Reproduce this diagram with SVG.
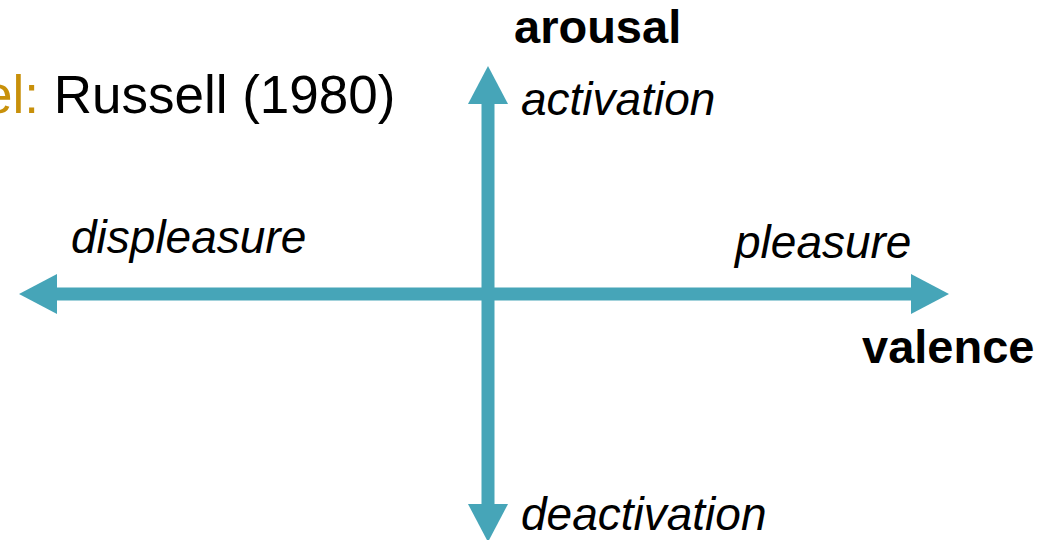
<svg xmlns="http://www.w3.org/2000/svg" width="1056" height="540" viewBox="0 0 1056 540">
  <style>
    .axis { stroke: #46A5B8; stroke-width: 13; fill: none; }
    .lbl { font-family: "Liberation Sans", Arial, sans-serif; fill: #000; }
    .it { font-style: italic; font-size: 46px; }
    .bd { font-weight: bold; font-size: 47px; }
  </style>
  <defs>
    <marker id="head" markerUnits="userSpaceOnUse" markerWidth="40" markerHeight="40" viewBox="0 0 40 40" refX="0" refY="20" orient="auto-start-reverse">
      <path d="M0,0 L38,20 L0,40 Z" fill="#46A5B8"/>
    </marker>
  </defs>
  <rect width="1056" height="540" fill="#ffffff"/>
  <g id="connectors">
    <line class="axis" x1="57" y1="294" x2="911" y2="294" marker-start="url(#head)" marker-end="url(#head)"/>
    <line class="axis" x1="488" y1="104" x2="488" y2="504" marker-start="url(#head)" marker-end="url(#head)"/>
  </g>
  <g id="title">
    <text class="lbl" x="-17" y="113" font-size="53"><tspan fill="#C8900A">el:</tspan> Russell (1980)</text>
  </g>
  <g id="arousal"><text class="lbl bd" x="514" y="43">arousal</text></g>
  <g id="activation"><text class="lbl it" x="521" y="115">activation</text></g>
  <g id="displeasure"><text class="lbl it" x="71" y="253">displeasure</text></g>
  <g id="pleasure"><text class="lbl it" x="735" y="258" font-size="50">pleasure</text></g>
  <g id="valence"><text class="lbl bd" x="862" y="363" font-size="48">valence</text></g>
  <g id="deactivation"><text class="lbl it" x="521" y="530" font-size="47">deactivation</text></g>
</svg>
